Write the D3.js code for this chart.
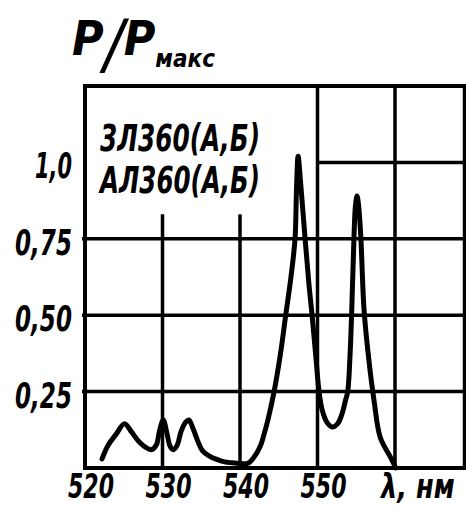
<!DOCTYPE html>
<html>
<head>
<meta charset="utf-8">
<script src="https://cdn.jsdelivr.net/npm/d3@7"></script>
<style>
  body { margin: 0; background: #fff; }
  text { font-family: "DejaVu Sans Condensed", "DejaVu Sans", sans-serif; font-weight: bold; font-style: italic; fill: #000; }
</style>
</head>
<body>
<div id="chart"></div>
<script>
// spectrum
const wavelength = [522.2, 523.0, 524.0, 525.1, 526.0, 527.0, 528.0, 528.6, 529.2, 529.6, 530.1, 530.6, 531.0, 531.4, 531.9, 532.4, 533.0, 533.4, 534.0, 534.6, 535.2, 536.0, 537.0, 538.0, 539.0, 540.0, 541.0, 541.8, 542.6, 543.1, 543.6, 544.4, 545.2, 545.9, 546.6, 547.1, 547.3, 547.5, 547.8, 548.4, 548.9, 549.3, 549.8, 550.2, 550.6, 551.2, 551.9, 552.6, 553.2, 553.6, 553.9, 554.2, 554.4, 554.7, 554.9, 555.1, 555.3, 555.6, 556.0, 556.6, 557.3, 558.1, 559.4, 560.1];
const power = [0.03, 0.075, 0.11, 0.145, 0.118, 0.085, 0.065, 0.06, 0.075, 0.12, 0.157, 0.11, 0.07, 0.06, 0.075, 0.12, 0.15, 0.157, 0.125, 0.085, 0.055, 0.04, 0.028, 0.02, 0.017, 0.015, 0.015, 0.035, 0.07, 0.11, 0.157, 0.25, 0.37, 0.5, 0.63, 0.75, 0.92, 1.02, 0.94, 0.75, 0.6, 0.5, 0.36, 0.25, 0.19, 0.15, 0.134, 0.145, 0.18, 0.22, 0.25, 0.37, 0.5, 0.75, 0.86, 0.89, 0.86, 0.75, 0.52, 0.36, 0.22, 0.1, 0.036, 0.0];

const xTicks = [520, 530, 540, 550];
const xTickLabels = ["520", "530", "540", "550"];
const yTicks = [0.25, 0.5, 0.75, 1.0];
const yTickLabels = ["0,25", "0,50", "0,75", "1,0"];
const devices = ["3Л360(А,Б)", "АЛ360(А,Б)"];

const width = 466;
const height = 507;

const x = d3.scaleLinear().domain([520, 569]).range([85, 464.75]);
const y = d3.scaleLinear().domain([0, 1.25]).range([468, 86]);

const svg = d3.select("#chart")
    .append("svg")
    .attr("width", width)
    .attr("height", height);

const grid = svg.append("g")
    .attr("stroke", "#000")
    .attr("stroke-width", 3.5);

// horizontal grid, the 1.0 line only starts at 550
grid.selectAll("line.h")
    .data(yTicks)
    .join("line")
    .attr("class", "h")
    .attr("x1", d => d === 1.0 ? x(550) : x(520) - 3)
    .attr("x2", x(569))
    .attr("y1", d => y(d))
    .attr("y2", d => y(d));

// vertical grid, 530 and 540 stop short below the label
grid.selectAll("line.v")
    .data([530, 540, 550, 560])
    .join("line")
    .attr("class", "v")
    .attr("x1", d => x(d))
    .attr("x2", d => x(d))
    .attr("y1", d => d < 550 ? y(0.83) : y(1.25))
    .attr("y2", y(0));

// frame
grid.append("rect")
    .attr("x", x(520))
    .attr("y", y(1.25))
    .attr("width", x(569) - x(520))
    .attr("height", y(0) - y(1.25))
    .attr("fill", "none")
    .attr("stroke-width", 4);

const line = d3.line()
    .x((d, i) => x(wavelength[i]))
    .y(d => y(d))
    .curve(d3.curveCatmullRom.alpha(0.5));

svg.append("path")
    .datum(power)
    .attr("d", line)
    .attr("fill", "none")
    .attr("stroke", "#000")
    .attr("stroke-width", 5)
    .attr("stroke-linecap", "round")
    .attr("stroke-linejoin", "round");

// tick labels, squeezed to the narrow lettering of the original
svg.append("g")
    .selectAll("text")
    .data(yTicks)
    .join("text")
    .attr("x", 72)
    .attr("y", d => y(d) + 16)
    .attr("text-anchor", "end")
    .attr("font-size", 36)
    .attr("textLength", (d, i) => yTickLabels[i].length === 3 ? 37 : 57)
    .attr("lengthAdjust", "spacingAndGlyphs")
    .text((d, i) => yTickLabels[i]);

svg.append("g")
    .selectAll("text")
    .data(xTicks)
    .join("text")
    .attr("x", d => x(d) + 6)
    .attr("y", 498)
    .attr("text-anchor", "middle")
    .attr("font-size", 34)
    .attr("textLength", 46)
    .attr("lengthAdjust", "spacingAndGlyphs")
    .text((d, i) => xTickLabels[i]);

svg.append("text")
    .attr("transform", `translate(${x(560) - 14},498) scale(0.84,1)`)
    .attr("font-size", 34)
    .text("λ, нм");

// device names
svg.append("g")
    .selectAll("text")
    .data(devices)
    .join("text")
    .attr("x", 100)
    .attr("y", (d, i) => 151 + i * 42)
    .attr("font-size", 37)
    .attr("textLength", 160)
    .attr("lengthAdjust", "spacingAndGlyphs")
    .text(d => d);

// axis title P/Pмакс
const title = svg.append("text")
    .attr("x", 72)
    .attr("y", 55);
title.append("tspan").attr("font-size", 48).text("P");
title.append("tspan").attr("font-size", 66).attr("font-weight", "normal")
    .attr("dy", 12).text("/");
title.append("tspan").attr("font-size", 48).attr("dy", -12).text("P");
title.append("tspan").attr("font-size", 24).attr("dy", 12).text("макс");
</script>
</body>
</html>
